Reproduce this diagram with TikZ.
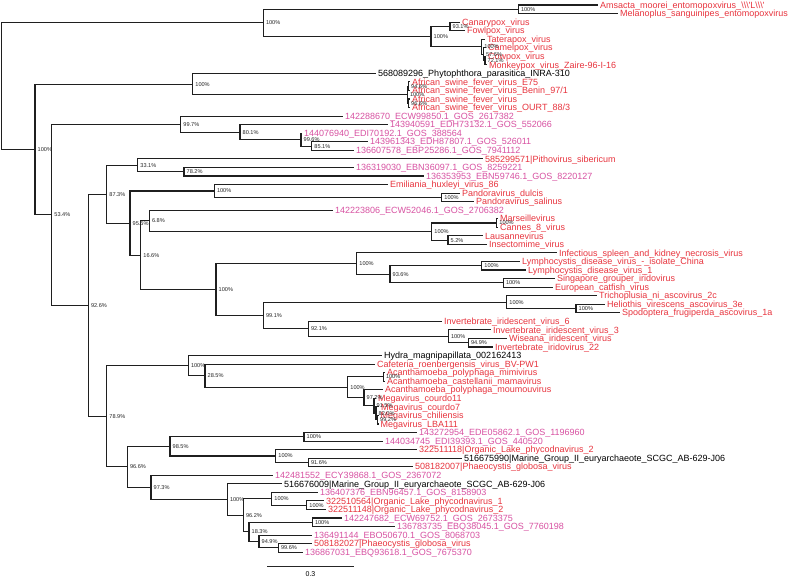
\documentclass[tikz,border=0pt]{standalone}
\usepackage{fontspec}
\setmainfont{Liberation Sans}
\usetikzlibrary{calc}
\definecolor{vred}{RGB}{232,52,62}
\definecolor{vpink}{RGB}{216,82,162}
\definecolor{vblack}{RGB}{0,0,0}
\newcommand\mkleaf[4]{%
  \coordinate (L#1) at (#2,{5+(#1-1)*8.55});
  \node[lab,text=#3] (T#1) at (#2+2,{8.2+(#1-1)*8.55}) {#4};
}
\newcommand\mknode[5]{%
  \coordinate (#1m) at ($(#3)!.5!(#4)$);
  \coordinate (#1x) at (#2,0);
  \coordinate (#1) at (#1x |- #1m);
  \draw[br] (#1) |- (#3);
  \draw[br] (#1) |- (#4);
  \node[nl] (#1t) at (#1) {#5};
}
\begin{document}
\begin{tikzpicture}[x=1pt,y=-1pt,
  br/.style={line width=1.1pt, draw=black!88},
  lab/.style={anchor=base west, inner sep=0pt, font=\fontsize{9}{10}\selectfont},
  nl/.style={anchor=west, inner sep=0pt, xshift=2.5pt, font=\fontsize{5.6}{6}\selectfont, text=black!85, text depth=0pt}]
\fill[white] (0,0) rectangle (793,577);
\useasboundingbox (0,0) rectangle (793,577);
% leaves
\mkleaf{1}{598}{vred}{Amsacta\_moorei\_entomopoxvirus\_\textbackslash\textbackslash\textbackslash\textquotesingle L\textbackslash\textbackslash\textbackslash\textquotesingle}
\mkleaf{2}{618}{vred}{Melanoplus\_sanguinipes\_entomopoxvirus}
\mkleaf{3}{460}{vred}{Canarypox\_virus}
\mkleaf{4}{465}{vred}{Fowlpox\_virus}
\mkleaf{5}{485}{vred}{Taterapox\_virus}
\mkleaf{6}{486}{vred}{Camelpox\_virus}
\mkleaf{7}{486}{vred}{Cowpox\_virus}
\mkleaf{8}{487}{vred}{Monkeypox\_virus\_Zaire-96-I-16}
\mkleaf{9}{376}{vblack}{568089296\_Phytophthora\_parasitica\_INRA-310}
\mkleaf{10}{410}{vred}{African\_swine\_fever\_virus\_E75}
\mkleaf{11}{410}{vred}{African\_swine\_fever\_virus\_Benin\_97/1}
\mkleaf{12}{410}{vred}{African\_swine\_fever\_virus}
\mkleaf{13}{410}{vred}{African\_swine\_fever\_virus\_OURT\_88/3}
\mkleaf{14}{343}{vpink}{142288670\_ECW99850.1\_GOS\_2617382}
\mkleaf{15}{388}{vpink}{143940591\_EDH73132.1\_GOS\_552066}
\mkleaf{16}{302}{vpink}{144076940\_EDI70192.1\_GOS\_388564}
\mkleaf{17}{368}{vpink}{143961343\_EDH87807.1\_GOS\_526011}
\mkleaf{18}{354}{vpink}{136607578\_EBP25286.1\_GOS\_7941112}
\mkleaf{19}{483}{vred}{585299571|Pithovirus\_sibericum}
\mkleaf{20}{354}{vpink}{136319030\_EBN36097.1\_GOS\_8259221}
\mkleaf{21}{424}{vpink}{136353953\_EBN59746.1\_GOS\_8220127}
\mkleaf{22}{388}{vred}{Emiliania\_huxleyi\_virus\_86}
\mkleaf{23}{460}{vred}{Pandoravirus\_dulcis}
\mkleaf{24}{474}{vred}{Pandoravirus\_salinus}
\mkleaf{25}{333}{vpink}{142223806\_ECW52046.1\_GOS\_2706382}
\mkleaf{26}{498}{vred}{Marseillevirus}
\mkleaf{27}{498}{vred}{Cannes\_8\_virus}
\mkleaf{28}{483}{vred}{Lausannevirus}
\mkleaf{29}{487}{vred}{Insectomime\_virus}
\mkleaf{30}{557}{vred}{Infectious\_spleen\_and\_kidney\_necrosis\_virus}
\mkleaf{31}{520}{vred}{Lymphocystis\_disease\_virus\_-\_isolate\_China}
\mkleaf{32}{526}{vred}{Lymphocystis\_disease\_virus\_1}
\mkleaf{33}{555}{vred}{Singapore\_grouper\_iridovirus}
\mkleaf{34}{553}{vred}{European\_catfish\_virus}
\mkleaf{35}{597}{vred}{Trichoplusia\_ni\_ascovirus\_2c}
\mkleaf{36}{605}{vred}{Heliothis\_virescens\_ascovirus\_3e}
\mkleaf{37}{620}{vred}{Spodoptera\_frugiperda\_ascovirus\_1a}
\mkleaf{38}{442}{vred}{Invertebrate\_iridescent\_virus\_6}
\mkleaf{39}{491}{vred}{Invertebrate\_iridescent\_virus\_3}
\mkleaf{40}{507}{vred}{Wiseana\_iridescent\_virus}
\mkleaf{41}{493}{vred}{Invertebrate\_iridovirus\_22}
\mkleaf{42}{382}{vblack}{Hydra\_magnipapillata\_002162413}
\mkleaf{43}{375}{vred}{Cafeteria\_roenbergensis\_virus\_BV-PW1}
\mkleaf{44}{385}{vred}{Acanthamoeba\_polyphaga\_mimivirus}
\mkleaf{45}{385}{vred}{Acanthamoeba\_castellanii\_mamavirus}
\mkleaf{46}{383}{vred}{Acanthamoeba\_polyphaga\_moumouvirus}
\mkleaf{47}{376}{vred}{Megavirus\_courdo11}
\mkleaf{48}{379}{vred}{Megavirus\_courdo7}
\mkleaf{49}{378.5}{vred}{Megavirus\_chiliensis}
\mkleaf{50}{378.5}{vred}{Megavirus\_LBA111}
\mkleaf{51}{417}{vpink}{143272954\_EDE05862.1\_GOS\_1196960}
\mkleaf{52}{383}{vpink}{144034745\_EDI39393.1\_GOS\_440520}
\mkleaf{53}{417}{vred}{322511118|Organic\_Lake\_phycodnavirus\_2}
\mkleaf{54}{462}{vblack}{516675990|Marine\_Group\_II\_euryarchaeote\_SCGC\_AB-629-J06}
\mkleaf{55}{413}{vred}{508182007|Phaeocystis\_globosa\_virus}
\mkleaf{56}{273}{vpink}{142481552\_ECY39868.1\_GOS\_2367072}
\mkleaf{57}{282}{vblack}{516676009|Marine\_Group\_II\_euryarchaeote\_SCGC\_AB-629-J06}
\mkleaf{58}{318}{vpink}{136407376\_EBN96457.1\_GOS\_8158903}
\mkleaf{59}{324}{vred}{322510564|Organic\_Lake\_phycodnavirus\_1}
\mkleaf{60}{326}{vred}{322511148|Organic\_Lake\_phycodnavirus\_2}
\mkleaf{61}{342}{vpink}{142247682\_ECW69752.1\_GOS\_2673375}
\mkleaf{62}{395}{vpink}{136783735\_EBQ38045.1\_GOS\_7760198}
\mkleaf{63}{312}{vpink}{136491144\_EBO50670.1\_GOS\_8068703}
\mkleaf{64}{312}{vred}{508182027|Phaeocystis\_globosa\_virus}
\mkleaf{65}{303}{vpink}{136867031\_EBQ93618.1\_GOS\_7675370}
% pox clade
\mknode{N518}{518.3}{L1}{L2}{100\%}
\mknode{N450}{450}{L3}{L4}{93.1\%}
\mknode{N484}{485}{L7}{L8}{72.1\%}
\mknode{N483}{483.5}{L6}{N484}{57.6\%}
\mknode{N482}{481.7}{L5}{N483}{100\%}
\mknode{N431}{431}{N450}{N482}{100\%}
\mknode{N263}{263.3}{N518}{N431}{100\%}
% ASFV
\mknode{A1}{408.5}{L10}{L11}{94.6\%}
\mknode{A2}{408.5}{L12}{L13}{96.6\%}
\mknode{N407}{407.3}{A1}{A2}{100\%}
\mknode{N193}{192.7}{L9}{N407}{100\%}
% upper GOS
\mknode{N312}{311.7}{L17}{L18}{85.1\%}
\mknode{N301}{301}{L16}{N312}{99.6\%}
\mknode{N240}{240}{L15}{N301}{80.1\%}
\mknode{N181}{180.7}{L14}{N240}{99.7\%}
\mknode{N184}{184}{L20}{L21}{78.2\%}
\mknode{N138}{137.7}{L19}{N184}{33.1\%}
\mknode{N442}{441.7}{L23}{L24}{100\%}
\mknode{N214}{214.3}{L22}{N442}{100\%}
\mknode{N497}{496.7}{L26}{L27}{100\%}
\mknode{N448}{448}{L28}{L29}{5.2\%}
\mknode{N432}{431.7}{N497}{N448}{100\%}
\mknode{N149}{149.3}{L25}{N432}{6.8\%}
\mknode{N482b}{481.7}{L31}{L32}{100\%}
\mknode{N503}{503.3}{L33}{L34}{100\%}
\mknode{N390}{390}{N482b}{N503}{93.6\%}
\mknode{N357}{356.7}{L30}{N390}{100\%}
\mknode{N576}{576}{L36}{L37}{100\%}
\mknode{N507}{506.7}{L35}{N576}{100\%}
\mknode{N468}{468.3}{L40}{L41}{94.9\%}
\mknode{N448b}{448.3}{L39}{N468}{100\%}
\mknode{N308}{308.3}{L38}{N448b}{92.1\%}
\mknode{N263b}{263.3}{N507}{N308}{99.1\%}
\mknode{N216}{216}{N357}{N263b}{100\%}
\mknode{N141}{140.7}{N149}{N216}{16.6\%}
\mknode{N130}{130}{N214}{N141}{95.5\%}
\mknode{N107}{106.7}{N138}{N130}{87.3\%}
% mimivirus clade
\mknode{N383}{383.3}{L44}{L45}{100\%}
\mknode{N377}{377.5}{L49}{L50}{99.2\%}
\mknode{N376}{376}{L48}{N377}{82.0\%}
\mknode{N374}{374}{L47}{N376}{91.5\%}
\mknode{N364}{364}{L46}{N374}{97.2\%}
\mknode{N348}{347.7}{N383}{N364}{100\%}
\mknode{N205}{205}{L43}{N348}{28.5\%}
\mknode{N188}{188.3}{L42}{N205}{100\%}
% lower GOS
\mknode{N304}{304}{L51}{L52}{100\%}
\mknode{N308b}{308.3}{L54}{L55}{91.6\%}
\mknode{N276}{275.7}{L53}{N308b}{100\%}
\mknode{N170}{170}{N304}{N276}{98.5\%}
\mknode{N307}{306.7}{L59}{L60}{100\%}
\mknode{N272}{271.7}{L58}{N307}{100\%}
\mknode{N312b}{312.3}{L61}{L62}{100\%}
\mknode{N278}{278.3}{L64}{L65}{99.6\%}
\mknode{N259}{259}{L63}{N278}{94.9\%}
\mknode{N249}{249}{N312b}{N259}{18.3\%}
\mknode{N243}{243.3}{N272}{N249}{96.2\%}
\mknode{N227}{227.3}{L57}{N243}{100\%}
\mknode{N151}{151}{L56}{N227}{97.3\%}
\mknode{N127}{127.3}{N170}{N151}{96.6\%}
\mknode{N107b}{106.7}{N188}{N127}{78.9\%}
\mknode{N88}{88.3}{N107}{N107b}{92.6\%}
\mknode{N52}{51.7}{N181}{N88}{53.4\%}
\mknode{N35}{35}{N193}{N52}{100\%}
\mknode{R}{1.2}{N263}{N35}{}
% scale bar
\coordinate (sb1) at (267,566);
\coordinate (sb2) at (354,566);
\draw[line width=0.8pt, draw=black!85] (sb1) -- (sb2);
\node[font=\fontsize{7}{8}\selectfont, inner sep=0pt, anchor=base] (sbl) at (310.5,576) {0.3};
\end{tikzpicture}
\end{document}
